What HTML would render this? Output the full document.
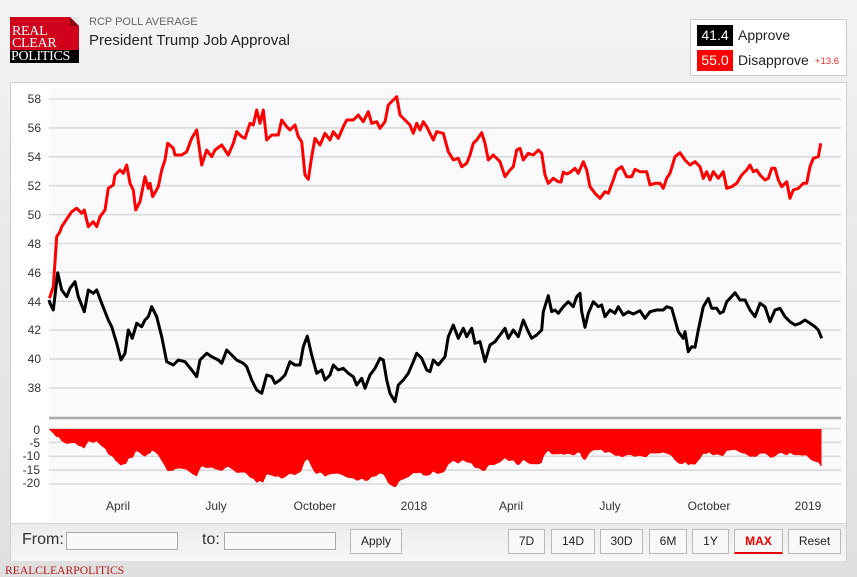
<!DOCTYPE html>
<html><head><meta charset="utf-8">
<style>
*{margin:0;padding:0;box-sizing:border-box}
html,body{width:857px;height:577px;overflow:hidden}
body{background:linear-gradient(#f4f4f4 0%,#e9e9e9 40%,#e0e0e0 100%);font-family:"Liberation Sans",Arial,sans-serif;position:relative}
.abs{position:absolute}
.logo{left:10px;top:17px;width:69px;height:46px;background:#d0021b;overflow:hidden}
.logo .blk{position:absolute;left:0;top:33px;width:69px;height:13px;background:#000}
.logo .corner{position:absolute;right:0;top:0;width:0;height:0;border-top:9px solid #e8e8e8;border-left:9px solid #8a0010}
.logo span{position:absolute;left:2px;color:#fff;font-family:"Liberation Serif",serif;font-size:14px;line-height:12px;letter-spacing:-0.3px}
.sub{left:89px;top:16px;font-size:11px;color:#666}
.title{left:89px;top:32px;font-size:15px;color:#222}
.legend{left:690px;top:19px;width:157px;height:57px;background:#fff;border:1px solid #ccc}
.val{position:absolute;left:6px;width:36px;height:21px;color:#fff;font-size:14px;line-height:21px;text-align:center}
.lab{position:absolute;left:47px;font-size:14px;color:#222;line-height:21px}
.panel{left:10px;top:82px;width:837px;height:479px;background:#fff;border:1px solid #d0d0d0}
.bar{left:11px;top:523px;width:835px;height:38px;background:linear-gradient(#ebebeb,#f7f7f7);border-top:1px solid #d6d6d6}
.inp{position:absolute;top:532px;height:18px;border:1px solid #aaa;background:#f9f9f9}
.btn{position:absolute;top:529px;height:25px;border:1px solid #b8b8b8;background:#f8f8f8;font-size:12px;color:#222;text-align:center;line-height:23px}
</style></head><body>
<div class="abs logo"><div class="corner"></div><span style="top:9px">REAL</span><span style="top:21px">CLEAR</span><div class="blk"></div><span style="top:34px;left:1px">POLITICS</span></div>
<div class="abs sub">RCP POLL AVERAGE</div>
<div class="abs title">President Trump Job Approval</div>
<div class="abs legend">
 <div class="val" style="top:5px;background:#000">41.4</div><div class="lab" style="top:5px">Approve</div>
 <div class="val" style="top:30px;background:#f00">55.0</div><div class="lab" style="top:30px">Disapprove</div>
 <div class="abs" style="left:124px;top:36px;font-size:9.5px;color:#e8262b">+13.6</div>
</div>
<div class="abs panel"></div>
<svg class="abs" style="left:0;top:0" width="857" height="577" viewBox="0 0 857 577">
 <rect x="49" y="88" width="792" height="435" fill="#fafafd"/>
 <g stroke="#dadada" stroke-width="1.6">
  <line x1="49" x2="841" y1="99" y2="99"/><line x1="49" x2="841" y1="127.9" y2="127.9"/>
  <line x1="49" x2="841" y1="156.8" y2="156.8"/><line x1="49" x2="841" y1="185.7" y2="185.7"/>
  <line x1="49" x2="841" y1="214.6" y2="214.6"/><line x1="49" x2="841" y1="243.5" y2="243.5"/>
  <line x1="49" x2="841" y1="272.4" y2="272.4"/><line x1="49" x2="841" y1="301.3" y2="301.3"/>
  <line x1="49" x2="841" y1="330.2" y2="330.2"/><line x1="49" x2="841" y1="359.1" y2="359.1"/>
  <line x1="49" x2="841" y1="388" y2="388"/>
  <line x1="49" x2="841" y1="428.5" y2="428.5"/><line x1="49" x2="841" y1="442.4" y2="442.4"/>
  <line x1="49" x2="841" y1="456.3" y2="456.3"/><line x1="49" x2="841" y1="470.2" y2="470.2"/>
  <line x1="49" x2="841" y1="484" y2="484"/>
 </g>
 <line x1="49" x2="841" y1="418" y2="418" stroke="#aaa" stroke-width="2.5"/>
 <g font-size="12" fill="#333" text-anchor="end" font-family="Liberation Sans, Arial, sans-serif">
  <text x="41" y="103">58</text><text x="41" y="132">56</text><text x="41" y="161">54</text>
  <text x="41" y="190">52</text><text x="41" y="219">50</text><text x="41" y="248">48</text>
  <text x="41" y="277">46</text><text x="41" y="306">44</text><text x="41" y="334">42</text>
  <text x="41" y="363">40</text><text x="41" y="392">38</text>
  <text x="40" y="434">0</text><text x="40" y="447">-5</text><text x="40" y="460">-10</text>
  <text x="40" y="474">-15</text><text x="40" y="487">-20</text>
 </g>
 <g font-size="12" fill="#333" text-anchor="middle" font-family="Liberation Sans, Arial, sans-serif">
  <text x="118" y="510">April</text><text x="216" y="510">July</text><text x="315" y="510">October</text>
  <text x="414" y="510">2018</text><text x="511" y="510">April</text><text x="610" y="510">July</text>
  <text x="709" y="510">October</text><text x="808" y="510">2019</text>
 </g>
 <polygon id="area" fill="#ff0000" points="49,429 60,437 85,443 100,445 115,452 122,462 135,455 150,453 168,468 195,468 240,472 255,478 263,481 275,475 290,477 305,467 320,470 355,475 370,478 385,476 395,484 405,475 420,470 440,465 455,458 470,463 485,467 510,460 530,457 550,450 570,452 590,452 610,452 640,455 665,453 690,463 710,455 735,452 760,455 790,453 810,455 821,464 821,429"/>
 <polyline id="red" fill="none" stroke="#ff0000" stroke-width="3" stroke-linejoin="round" points="49,298 50,296.7 53.3,286.7 56.7,236.7 60,231.7 61.7,226.7 65,221.7 68.3,216.7 71.7,211.7 76.7,208.3 81.7,213.3 84.3,210 88.3,226.7 93.3,221.7 96.7,226.7 100,216.7 105,210 108.3,188.3 113.3,185 115,175 120,170 123.3,173.3 126.7,165 130,183.3 133.3,190 135.7,210 140,201.7 145,176.7 148.3,188.3 150,183.3 152.7,196.7 158.3,186.7 161.7,170 165,160 167.7,143.3 173.3,148.3 175,155 181.7,155 186.7,151.7 191.7,138.3 196.7,130 201.7,165 206.7,150 211.7,156.7 215,150 221.7,145 228.3,155 233.3,143.3 236.7,131.7 241.7,136.7 245,138.3 250,123.3 253.3,125 256.7,110 260,123.3 263.3,110 266.7,140 271.7,135 278.3,135 281.7,120 286.7,126.7 290,130 295,125 298.3,136.7 301.7,141.7 305,175 308.3,179.3 311.7,156.7 315,138.3 320,145 325,133.3 330,140 333.3,131.7 338.3,138.3 343.3,126.7 346.7,120 353.3,120 358.3,115 363.3,121.7 368.3,111.7 371.7,123.3 376.7,121.7 380,128.3 385,121.7 388.3,105 393.3,100 396.7,96.7 400,115 405,120 410,125 413.3,133.3 416.7,123.3 420,130 423.3,121.7 426.7,126.7 430,133.3 433.3,140 436.7,131.7 443.3,133.3 448.3,151.7 453.3,160 458.3,158.3 461.7,166.7 466.7,163.3 470,155 473.3,143.3 476.7,140 481.7,132.7 485,143.3 488.3,160 493.3,155 500,161.7 505,176.7 510,170 513.3,166.7 516.7,150 520,148.3 523.3,160 528.3,153.3 533.3,155 538.3,150 541.7,153.3 545,175 548.3,183.3 553.3,178.3 558.3,181.7 561,182 563.3,172 566.7,174 570,172.5 575,168.3 578.3,173.3 583.3,161.7 586.7,170 590,186.7 595,193.3 600,198.3 605,191.7 608.3,193.3 613.3,180 616.7,170 621.7,166.7 626.7,176.7 631.7,176.7 635,169.3 640,171.7 646.7,171.7 650,185 655,183.3 660,183.3 663.3,188.3 666.7,178.3 670,173.3 675,156.7 680,152.7 685,160 690,165 695,161.7 700,166.7 703.3,178.3 706.7,171.7 710,180 713.3,171.7 718.3,178.3 723.3,171.7 726.7,188.3 731.7,186.7 736.7,183.3 741.7,175 746.7,170 750,165 753.3,171.7 756.7,170 760,175 765,180 768.3,178.3 771.7,168.3 775,168.3 778.3,180 781.7,186.7 786.7,181.7 790,198.3 793.3,190 798.3,188.3 803.3,183.3 806.7,183.3 810,166.7 813.3,158.3 818.3,156.7 820.7,143.3"/>
 <polyline id="blk" fill="none" stroke="#000" stroke-width="3" stroke-linejoin="round" points="49,300 50,303.3 53.3,310 57.7,272.7 61.7,290 66.7,296.7 70,288.3 75,281.7 78.3,296.7 84.3,311.7 88.3,290 93.3,293.3 96.7,290 101.7,303.3 108.3,320 111.7,326.7 116.7,343.3 121,360 125,353.3 128.3,330 132.3,338.3 136.7,323.3 141.7,326.7 145,320 148.3,316.7 151.7,306.7 156.7,316.7 161.7,336.7 166.7,361.7 173.3,365 178.3,360 185,361.7 191.7,370 196.7,376.7 200,360 206.7,353.3 211.7,356.7 218.3,360 221.7,363.3 226.7,350 231.7,355 236.7,360 243.3,363.3 246.7,366.7 251.7,380 256.7,390 261.7,393.3 266.7,375 271.7,376.7 275,383.3 280,380 285,375 290,361.7 295,365 300,365 303.3,346.7 307.3,336 311.7,355 316.7,373.3 321.7,370 325,380 330,375 333.3,365 338.3,370 343.3,368.3 348.3,373.3 353.3,376.7 356.7,385 361.7,378.3 365,388.3 370,375 375,368.3 380,358.3 383.3,360 386.7,380 390,393.3 395,401.7 398.3,385 403.3,380 408.3,373.3 413.3,361.7 416.7,353.3 421.7,358.3 426.7,370 430,371.7 433.3,360 438.3,365 445,356.7 448.3,336.7 453.3,325 458.3,338.3 463.3,328.3 466.7,336.7 471.7,328.3 475,343.3 480,341.7 485,361.7 490,345 495,341.7 500,335 505,328.3 508.3,338.3 513.3,330 518.3,336.7 523.3,320 528.3,331.7 531.7,338.3 536.7,335 541.7,330 543.3,311.7 548.3,295.7 551.7,311.7 555,310 558.3,313.3 563.3,306.7 568.3,301.7 573.3,306.7 576.7,296.7 580,293.3 581.7,311.7 585,327.3 588.3,313.3 593.3,301.7 598.3,306.7 601.7,305 605,316.7 610,310 615,313.3 618.3,306.7 623.3,315 628.3,311.7 633.3,314 640,310.7 645,318.3 650,311.7 656.7,310 663.3,310 666.7,306.7 671.7,308.3 675,320 678.3,331.7 683.3,338.3 685,331.7 688.3,351.7 691.7,346.7 695,347.3 698.3,330 703.3,306.7 708.3,298.3 711.7,308.3 716.7,308.3 720,313.3 723.3,311.7 726.7,301.7 730,298.3 735,292.7 740,300 745,300 750,310 755,316.7 760,303.3 765,306.7 770,321.7 775,310 780,308.3 785,316.7 790,321.7 795,325 800,323.3 805,320 810,323.3 815,326.7 818.3,330 821.7,338.3"/>
</svg>
<div class="abs bar"></div>
<div class="abs" style="left:22px;top:531px;font-size:16px;color:#333">From:</div>
<div class="inp" style="left:66px;width:112px"></div>
<div class="abs" style="left:202px;top:531px;font-size:16px;color:#333">to:</div>
<div class="inp" style="left:224px;width:112px"></div>
<div class="btn" style="left:350px;width:52px">Apply</div>
<div class="btn" style="left:508px;width:37px">7D</div>
<div class="btn" style="left:551px;width:44px">14D</div>
<div class="btn" style="left:600px;width:43px">30D</div>
<div class="btn" style="left:649px;width:38px">6M</div>
<div class="btn" style="left:692px;width:37px">1Y</div>
<div class="btn" style="left:734px;width:49px;color:#e00;font-weight:bold;border-bottom:2px solid #e00">MAX</div>
<div class="btn" style="left:788px;width:53px">Reset</div>
<div class="abs" style="left:5px;top:564px;font-family:'Liberation Serif',serif;font-size:11.6px;color:#b3191e">REALCLEARPOLITICS</div>
<script>
(function(){
 function P(id){return document.getElementById(id).getAttribute('points').trim().split(/\s+/).map(function(p){return p.split(',').map(Number);});}
 function I(pts,x){for(var i=1;i<pts.length;i++){if(pts[i][0]>=x){var a=pts[i-1],b=pts[i];var t=(x-a[0])/((b[0]-a[0])||1);return a[1]+t*(b[1]-a[1]);}}return pts[pts.length-1][1];}
 try{
 var r=P('red'),k=P('blk'),out=['49,429'];
 for(var x=49;x<=821.5;x+=0.75){var s=(I(k,x)-I(r,x))/14.45;out.push(x.toFixed(2)+','+(429+s*2.78).toFixed(2));}
 out.push('821.5,429');
 document.getElementById('area').setAttribute('points',out.join(' '));
 }catch(e){}
})();
</script>
</body></html>
